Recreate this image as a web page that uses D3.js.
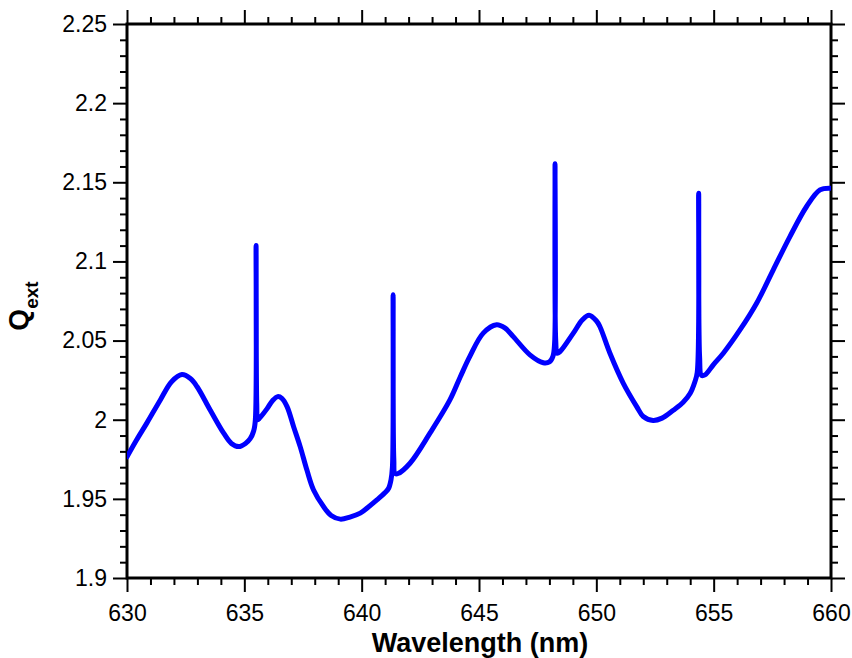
<!DOCTYPE html>
<html>
<head>
<meta charset="utf-8">
<script src="https://cdn.jsdelivr.net/npm/d3@7/dist/d3.min.js"></script>
<style>
  html, body { margin: 0; padding: 0; background: #fff; }
  svg { display: block; font-family: "Liberation Sans", Arial, sans-serif; }
</style>
</head>
<body>
<svg id="chart" width="852" height="658"></svg>
<script>
// ---- data ----
const wavelength = [
  630.00, 630.40, 630.85, 631.42, 631.90, 632.34, 632.70, 632.98, 633.55, 634.12,
  634.45, 634.76, 635.05, 635.25, 635.40, 635.47, 635.50, 635.53, 635.57, 635.65,
  635.97, 636.20, 636.42, 636.60, 636.82, 637.10, 637.38, 637.67, 637.95, 638.38,
  638.70, 639.09, 639.50, 639.94, 640.30, 640.65, 641.00, 641.15, 641.25, 641.31,
  641.34, 641.37, 641.42, 641.55, 642.06, 642.91, 643.76, 644.20, 644.61, 645.18,
  645.75, 646.10, 646.46, 647.17, 647.74, 648.00, 648.15, 648.22, 648.24, 648.27,
  648.33, 648.45, 649.02, 649.40, 649.69, 650.00, 650.15, 650.58, 651.15, 651.72,
  652.00, 652.42, 652.80, 653.28, 653.70, 654.00, 654.20, 654.30, 654.36, 654.40,
  654.48, 654.63, 655.00, 655.41, 656.12, 656.83, 657.54, 658.25, 658.96, 659.53,
  659.96
];
const qext = [
  1.9765, 1.987, 1.998, 2.0125, 2.024, 2.0285, 2.026, 2.021, 2.006, 1.9915,
  1.985, 1.983, 1.985, 1.988, 1.993, 2.000, 2.110, 2.010, 2.000, 2.001,
  2.007, 2.012, 2.0146, 2.0135, 2.0083, 1.9956, 1.983, 1.968, 1.9556, 1.945,
  1.9395, 1.9372, 1.9385, 1.941, 1.945, 1.9493, 1.954, 1.9567, 1.962, 1.970,
  2.079, 1.975, 1.966, 1.966, 1.9725, 1.9915, 2.0125, 2.027, 2.040, 2.0547,
  2.060, 2.058, 2.0525, 2.041, 2.036, 2.0365, 2.040, 2.048, 2.1617, 2.050,
  2.042, 2.043, 2.0547, 2.063, 2.066, 2.0625, 2.0589, 2.042, 2.023, 2.0083,
  2.002, 1.9995, 2.001, 2.006, 2.011, 2.0167, 2.024, 2.030, 2.143, 2.040,
  2.028, 2.0283, 2.035, 2.042, 2.0567, 2.0736, 2.0947, 2.1157, 2.1347, 2.1452,
  2.1463
];
const xTicks = [630, 635, 640, 645, 650, 655, 660];
const xTickLabels = ["630", "635", "640", "645", "650", "655", "660"];
const yTicks = [1.9, 1.95, 2, 2.05, 2.1, 2.15, 2.2, 2.25];
const yTickLabels = ["1.9", "1.95", "2", "2.05", "2.1", "2.15", "2.2", "2.25"];
const xDomain = [630, 660];
const yDomain = [1.9, 2.25];
const xLabel = "Wavelength (nm)";

// ---- layout ----
const L = 127, R = 831, T = 24, B = 578;
const svg = d3.select("#chart");
const x = d3.scaleLinear().domain(xDomain).range([L, R]);
const y = d3.scaleLinear().domain(yDomain).range([B, T]);

const xMinor = d3.range(0, 31).map(i => xDomain[0] + i).filter(v => v % 5 !== 0);
const yMinor = d3.range(0, 36).map(i => Math.round((yDomain[0] + i * 0.01) * 100) / 100)
  .filter(v => !yTicks.some(t => Math.abs(t - v) < 1e-9));

function styleAxis(g) {
  g.select(".domain").remove();
  g.selectAll(".tick line").attr("stroke", "#000").attr("stroke-width", 2);
}

// minor ticks
svg.append("g").attr("transform", `translate(0,${B})`)
  .call(d3.axisBottom(x).tickValues(xMinor).tickSize(7).tickFormat(""))
  .call(styleAxis);
svg.append("g").attr("transform", `translate(0,${T})`)
  .call(d3.axisTop(x).tickValues(xMinor).tickSize(7).tickFormat(""))
  .call(styleAxis);
svg.append("g").attr("transform", `translate(${L},0)`)
  .call(d3.axisLeft(y).tickValues(yMinor).tickSize(7).tickFormat(""))
  .call(styleAxis);
svg.append("g").attr("transform", `translate(${R},0)`)
  .call(d3.axisRight(y).tickValues(yMinor).tickSize(7).tickFormat(""))
  .call(styleAxis);

// major ticks
const gxb = svg.append("g").attr("transform", `translate(0,${B})`)
  .call(d3.axisBottom(x).tickValues(xTicks).tickSize(14).tickPadding(13)
    .tickFormat((d, i) => xTickLabels[i]))
  .call(styleAxis);
gxb.selectAll("text").attr("font-size", 23).attr("fill", "#000")
  .attr("font-family", "Liberation Sans, Arial, sans-serif");
svg.append("g").attr("transform", `translate(0,${T})`)
  .call(d3.axisTop(x).tickValues(xTicks).tickSize(14).tickFormat(""))
  .call(styleAxis);
const gyl = svg.append("g").attr("transform", `translate(${L},0)`)
  .call(d3.axisLeft(y).tickValues(yTicks).tickSize(14).tickPadding(6)
    .tickFormat((d, i) => yTickLabels[i]))
  .call(styleAxis);
gyl.selectAll("text").attr("font-size", 23).attr("fill", "#000")
  .attr("font-family", "Liberation Sans, Arial, sans-serif");
svg.append("g").attr("transform", `translate(${R},0)`)
  .call(d3.axisRight(y).tickValues(yTicks).tickSize(14).tickFormat(""))
  .call(styleAxis);

// frame
svg.append("rect").attr("x", L).attr("y", T).attr("width", R - L).attr("height", B - T)
  .attr("fill", "none").attr("stroke", "#000").attr("stroke-width", 3);

// clip
svg.append("clipPath").attr("id", "clip").append("rect")
  .attr("x", L).attr("y", T).attr("width", R - L).attr("height", B - T);

const pts = wavelength.map((w, i) => [w, qext[i]]);
const line = d3.line().x(d => x(d[0])).y(d => y(d[1])).curve(d3.curveCatmullRom.alpha(0.5));
svg.append("path").attr("clip-path", "url(#clip)")
  .attr("d", line(pts))
  .attr("fill", "none").attr("stroke", "#0000ff").attr("stroke-width", 5)
  .attr("stroke-linejoin", "round").attr("stroke-linecap", "round");

// axis titles
svg.append("text").attr("x", (L + R) / 2 + 1).attr("y", 652)
  .attr("text-anchor", "middle").attr("font-size", 27).attr("font-weight", "bold")
  .text(xLabel);

const yl = svg.append("text").attr("transform", "translate(28,306) rotate(-90)")
  .attr("text-anchor", "middle").attr("font-weight", "bold");
yl.append("tspan").attr("font-size", 28).text("Q");
yl.append("tspan").attr("font-size", 19).attr("dy", 10).text("ext");
</script>
</body>
</html>
